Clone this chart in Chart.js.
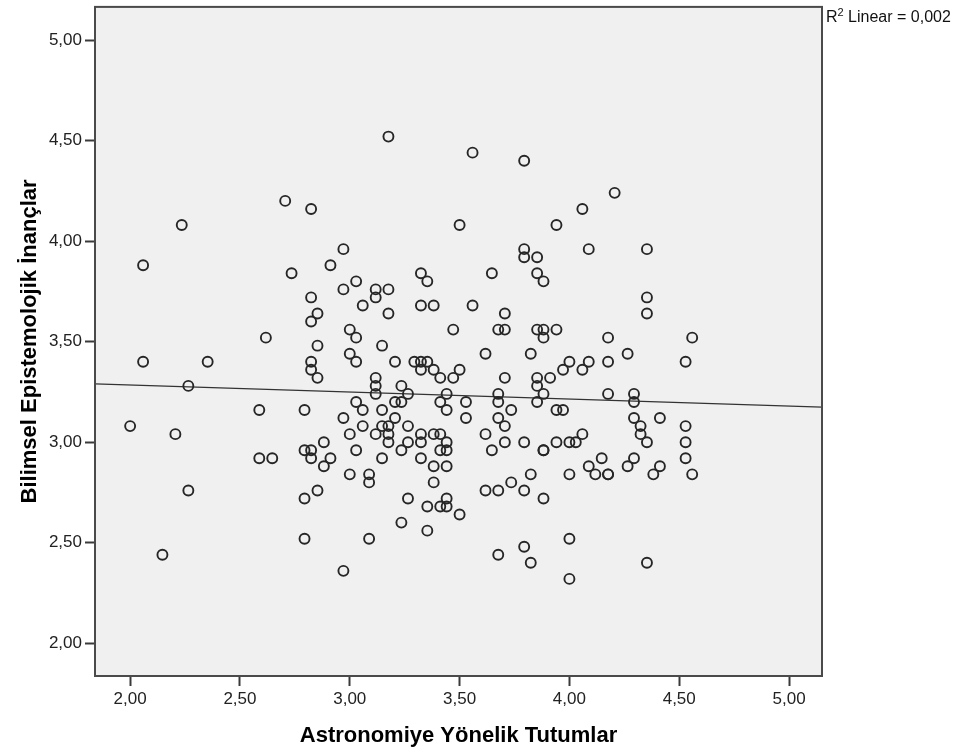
<!DOCTYPE html>
<html lang="tr">
<head>
<meta charset="utf-8">
<title>Astronomiye Yönelik Tutumlar - Bilimsel Epistemolojik İnançlar</title>
<script src="https://cdn.jsdelivr.net/npm/chart.js@4.4.1/dist/chart.umd.min.js"></script>
<style>
  html, body { margin: 0; padding: 0; background: #ffffff; }
  #scatterChart { display: block; }
</style>
</head>
<body>
<canvas id="scatterChart" width="960" height="753"></canvas>
<script>
// Astronomy attitude vs. scientific epistemological beliefs (scatter + linear fit)

const xTitle = 'Astronomiye Yönelik Tutumlar';
const yTitle = 'Bilimsel Epistemolojik İnançlar';
const xTicks = [2, 2.5, 3, 3.5, 4, 4.5, 5];
const yTicks = [2, 2.5, 3, 3.5, 4, 4.5, 5];
const xRange = [1.84, 5.15];
const yRange = [1.837, 5.165];

// [tutum, inanç] for each respondent
const scores = [
    [2.706, 4.20], [2.824, 4.16], [2.235, 4.08], [2.059, 3.88], [2.971, 3.96],
    [2.912, 3.88], [2.735, 3.84], [3.176, 4.52], [3.559, 4.44], [3.794, 4.40],
    [4.059, 4.16], [3.941, 4.08], [3.500, 4.08], [3.794, 3.96], [3.794, 3.92],
    [3.853, 3.92], [4.088, 3.96], [3.647, 3.84], [3.324, 3.84], [3.353, 3.80],
    [3.029, 3.80], [3.853, 3.84], [3.882, 3.80], [4.206, 4.24], [4.353, 3.96],
    [2.971, 3.76], [2.824, 3.72], [2.853, 3.64], [2.824, 3.60], [2.618, 3.52],
    [3.000, 3.56], [3.000, 3.44], [2.853, 3.48], [2.059, 3.40], [2.353, 3.40],
    [2.824, 3.40], [2.824, 3.36], [2.853, 3.32], [2.265, 3.28], [2.588, 3.16],
    [2.794, 3.16], [2.971, 3.12], [2.000, 3.08], [2.206, 3.04], [3.000, 3.04],
    [2.882, 3.00], [2.794, 2.96], [2.824, 2.96], [2.588, 2.92], [2.647, 2.92],
    [2.824, 2.92], [2.912, 2.92], [2.882, 2.88], [3.000, 2.84], [2.265, 2.76],
    [2.853, 2.76], [2.794, 2.72], [2.794, 2.52], [2.147, 2.44], [2.971, 2.36],
    [3.118, 3.76], [3.176, 3.76], [3.118, 3.72], [3.059, 3.68], [3.324, 3.68],
    [3.382, 3.68], [3.559, 3.68], [3.176, 3.64], [3.706, 3.64], [3.471, 3.56],
    [3.676, 3.56], [3.706, 3.56], [3.853, 3.56], [3.882, 3.56], [3.941, 3.56],
    [3.882, 3.52], [3.029, 3.52], [3.147, 3.48], [3.618, 3.44], [3.824, 3.44],
    [3.029, 3.40], [3.206, 3.40], [3.294, 3.40], [3.324, 3.40], [3.353, 3.40],
    [3.324, 3.36], [3.382, 3.36], [3.500, 3.36], [4.000, 3.40], [4.088, 3.40],
    [3.971, 3.36], [4.059, 3.36], [3.118, 3.32], [3.412, 3.32], [3.471, 3.32],
    [3.706, 3.32], [3.853, 3.32], [3.912, 3.32], [3.118, 3.28], [3.235, 3.28],
    [3.853, 3.28], [3.118, 3.24], [3.265, 3.24], [3.441, 3.24], [3.676, 3.24],
    [3.882, 3.24], [3.029, 3.20], [3.206, 3.20], [3.235, 3.20], [3.412, 3.20],
    [3.529, 3.20], [3.676, 3.20], [3.853, 3.20], [3.059, 3.16], [3.147, 3.16],
    [3.441, 3.16], [3.735, 3.16], [3.941, 3.16], [3.971, 3.16], [3.206, 3.12],
    [3.529, 3.12], [3.676, 3.12], [3.059, 3.08], [3.147, 3.08], [3.176, 3.08],
    [3.265, 3.08], [3.706, 3.08], [3.176, 3.04], [3.324, 3.04], [3.382, 3.04],
    [3.412, 3.04], [3.618, 3.04], [4.059, 3.04], [3.118, 3.04], [3.029, 2.96],
    [3.176, 3.00], [3.265, 3.00], [3.324, 3.00], [3.441, 3.00], [3.706, 3.00],
    [3.794, 3.00], [3.941, 3.00], [4.000, 3.00], [4.029, 3.00], [3.235, 2.96],
    [3.412, 2.96], [3.441, 2.96], [3.647, 2.96], [3.882, 2.96], [3.882, 2.96],
    [3.147, 2.92], [3.324, 2.92], [3.382, 2.88], [3.441, 2.88], [4.088, 2.88],
    [3.088, 2.84], [3.824, 2.84], [4.000, 2.84], [3.088, 2.80], [3.382, 2.80],
    [3.735, 2.80], [3.618, 2.76], [3.676, 2.76], [3.794, 2.76], [3.265, 2.72],
    [3.441, 2.72], [3.882, 2.72], [3.353, 2.68], [3.412, 2.68], [3.441, 2.68],
    [3.500, 2.64], [3.235, 2.60], [3.353, 2.56], [3.088, 2.52], [4.000, 2.52],
    [3.794, 2.48], [3.676, 2.44], [3.824, 2.40], [4.000, 2.32], [4.353, 3.72],
    [4.353, 3.64], [4.176, 3.52], [4.559, 3.52], [4.265, 3.44], [4.176, 3.40],
    [4.529, 3.40], [4.176, 3.24], [4.294, 3.24], [4.294, 3.20], [4.294, 3.12],
    [4.412, 3.12], [4.324, 3.08], [4.529, 3.08], [4.324, 3.04], [4.353, 3.00],
    [4.529, 3.00], [4.529, 2.92], [4.559, 2.84], [4.147, 2.92], [4.118, 2.84],
    [4.176, 2.84], [4.176, 2.84], [4.294, 2.92], [4.265, 2.88], [4.412, 2.88],
    [4.382, 2.84], [4.353, 2.40]
];

// linear fit across the full x range
const fitLine = [[1.84, 3.290], [5.15, 3.174]];
const rSquaredText = 'Linear = 0,002';

const FONT = "'Liberation Sans', Arial, sans-serif";

function commaFormat(v) {
    return v.toFixed(2).replace('.', ',');
}

// grey plot background, frame and R² note
const plotFrame = {
    id: 'plotFrame',
    beforeDraw(chart) {
        const { ctx, chartArea: a } = chart;
        ctx.save();
        ctx.fillStyle = '#f0f0f0';
        ctx.fillRect(a.left, a.top, a.right - a.left, a.bottom - a.top);
        ctx.restore();
    },
    afterDraw(chart) {
        const { ctx, chartArea: a } = chart;
        ctx.save();
        ctx.strokeStyle = '#4a4a4a';
        ctx.lineWidth = 2;
        ctx.strokeRect(a.left, a.top, a.right - a.left, a.bottom - a.top);

        // R² Linear note to the right of the plot
        ctx.fillStyle = '#111';
        ctx.textBaseline = 'alphabetic';
        let x = a.right + 4;
        const y = 22;
        ctx.font = '16px ' + FONT;
        ctx.fillText('R', x, y);
        x += ctx.measureText('R').width;
        ctx.font = '11px ' + FONT;
        ctx.fillText('2', x, y - 6);
        x += ctx.measureText('2').width;
        ctx.font = '16px ' + FONT;
        ctx.fillText(' ' + rSquaredText, x, y);
        ctx.restore();
    }
};

class AttitudeScatter {
    constructor() {
        this.chart = null;
        this.renderChart();
    }

    axisTicks(values) {
        return function (scale) {
            scale.ticks = values.map(v => ({ value: v }));
        };
    }

    renderChart() {
        const ctx = document.getElementById('scatterChart').getContext('2d');

        this.chart = new Chart(ctx, {
            type: 'scatter',
            data: {
                datasets: [
                    {
                        label: 'Katılımcılar',
                        data: scores.map(p => ({ x: p[0], y: p[1] })),
                        pointStyle: 'circle',
                        pointRadius: 5,
                        pointBorderWidth: 1.9,
                        pointBorderColor: '#262626',
                        pointBackgroundColor: 'rgba(0,0,0,0)',
                        order: 1
                    },
                    {
                        type: 'line',
                        label: 'Linear',
                        data: fitLine.map(p => ({ x: p[0], y: p[1] })),
                        borderColor: '#333333',
                        borderWidth: 1.3,
                        pointRadius: 0,
                        fill: false,
                        tension: 0,
                        order: 2
                    }
                ]
            },
            options: {
                responsive: false,
                animation: false,
                devicePixelRatio: 1,
                layout: {
                    padding: { top: 2, right: 138, left: 0, bottom: 0 }
                },
                plugins: {
                    legend: { display: false },
                    tooltip: { enabled: false }
                },
                scales: {
                    x: {
                        type: 'linear',
                        min: xRange[0],
                        max: xRange[1],
                        afterBuildTicks: this.axisTicks(xTicks),
                        afterFit(scale) {
                            scale.height = 77;
                            scale.paddingLeft = 0;
                            scale.paddingRight = 0;
                        },
                        grid: {
                            drawOnChartArea: false,
                            drawTicks: true,
                            tickLength: 10,
                            tickColor: '#3a3a3a',
                            tickWidth: 2
                        },
                        border: { display: false },
                        ticks: {
                            padding: 3,
                            color: '#222',
                            maxRotation: 0,
                            font: { family: FONT, size: 17 },
                            callback: v => commaFormat(v)
                        },
                        title: {
                            display: true,
                            text: xTitle,
                            color: '#000',
                            padding: { top: 0, bottom: 4 },
                            font: { family: FONT, size: 22, weight: 'bold' }
                        }
                    },
                    y: {
                        type: 'linear',
                        min: yRange[0],
                        max: yRange[1],
                        afterBuildTicks: this.axisTicks(yTicks),
                        afterFit(scale) {
                            scale.width = 95;
                            scale.paddingTop = 0;
                            scale.paddingBottom = 0;
                        },
                        grid: {
                            drawOnChartArea: false,
                            drawTicks: true,
                            tickLength: 10,
                            tickColor: '#3a3a3a',
                            tickWidth: 2
                        },
                        border: { display: false },
                        ticks: {
                            padding: 3,
                            color: '#222',
                            font: { family: FONT, size: 17 },
                            callback: v => commaFormat(v)
                        },
                        title: {
                            display: true,
                            text: yTitle,
                            color: '#000',
                            padding: { top: 17, bottom: 0 },
                            font: { family: FONT, size: 22, weight: 'bold' }
                        }
                    }
                }
            },
            plugins: [plotFrame]
        });
    }
}

new AttitudeScatter();
</script>
</body>
</html>
